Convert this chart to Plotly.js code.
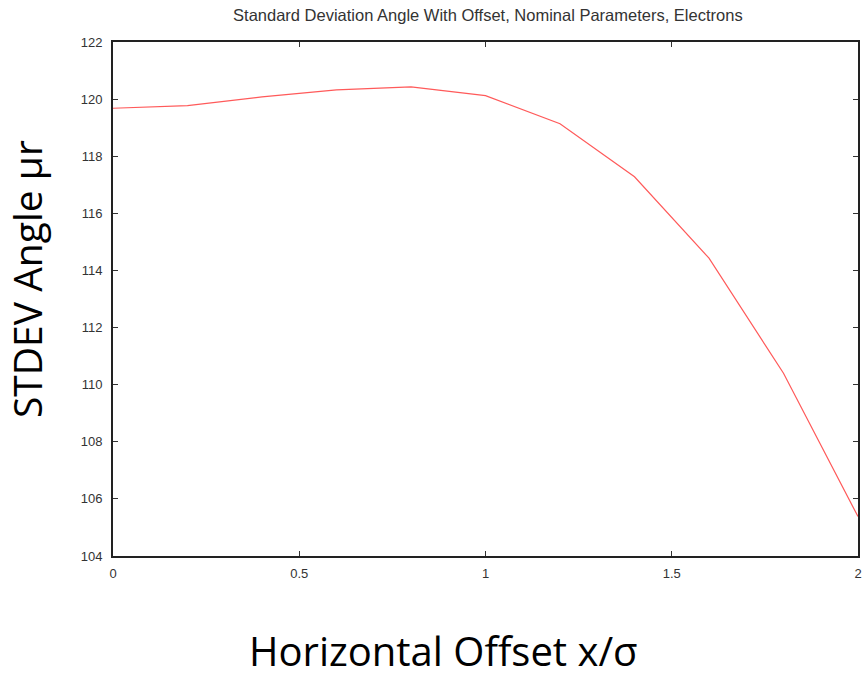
<!DOCTYPE html>
<html>
<head>
<meta charset="utf-8">
<script src="https://cdn.plot.ly/plotly-3.0.1.min.js"></script>
<style>html,body{margin:0;padding:0;background:#fff;}</style>
</head>
<body>
<div id="chart" style="width:865px;height:681px;"></div>
<script>
var offsets = [0, 0.2, 0.4, 0.6, 0.8, 1.0, 1.2, 1.4, 1.6, 1.8, 2.0];
var stdevAngle = [119.68, 119.77, 120.08, 120.32, 120.43, 120.12, 119.14, 117.28, 114.43, 110.40, 105.38];
var xTickVals = [0, 0.5, 1, 1.5, 2];
var xTickText = ['0', '0.5', '1', '1.5', '2'];
var yTickVals = [104, 106, 108, 110, 112, 114, 116, 118, 120, 122];

var trace = {
  x: offsets,
  y: stdevAngle,
  type: 'scatter',
  mode: 'lines',
  line: {color: 'rgb(255,90,90)', width: 1.2},
  showlegend: false
};

var axisCommon = {
  showgrid: false,
  zeroline: false,
  showline: true,
  linecolor: '#222',
  linewidth: 2,
  mirror: 'allticks',
  ticks: 'inside',
  ticklen: 5,
  tickwidth: 1,
  tickcolor: '#333',
  tickfont: {family: 'Liberation Sans, Arial, sans-serif', size: 13, color: '#333'}
};

var layout = {
  width: 865,
  height: 681,
  margin: {l: 113, r: 7, t: 42, b: 125},
  paper_bgcolor: '#fff',
  plot_bgcolor: '#fff',
  title: {
    text: 'Standard Deviation Angle With Offset, Nominal Parameters, Electrons',
    font: {family: 'Liberation Sans, Arial, sans-serif', size: 16.5, color: '#333'},
    x: 0.564, xanchor: 'center', y: 0.977, yanchor: 'middle'
  },
  xaxis: Object.assign({}, axisCommon, {
    range: [0, 2],
    tickvals: xTickVals,
    ticktext: xTickText,
    ticklabelstandoff: 4
  }),
  yaxis: Object.assign({}, axisCommon, {
    range: [104, 122],
    tickvals: yTickVals,
    ticklabelstandoff: 6
  }),
  annotations: [{
    text: 'Horizontal Offset x/σ',
    xref: 'paper', yref: 'paper',
    x: 0.443, y: -0.1848,
    xanchor: 'center', yanchor: 'middle',
    showarrow: false,
    font: {family: 'Open Sans, Liberation Sans, sans-serif', size: 40, color: '#000'}
  }, {
    text: 'STDEV Angle μr',
    xref: 'paper', yref: 'paper',
    x: -0.116, y: 0.538,
    xanchor: 'center', yanchor: 'middle',
    textangle: -90,
    showarrow: false,
    font: {family: 'Open Sans, Liberation Sans, sans-serif', size: 39, color: '#000'}
  }]
};

Plotly.newPlot('chart', [trace], layout, {displayModeBar: false, staticPlot: true});
</script>
</body>
</html>
